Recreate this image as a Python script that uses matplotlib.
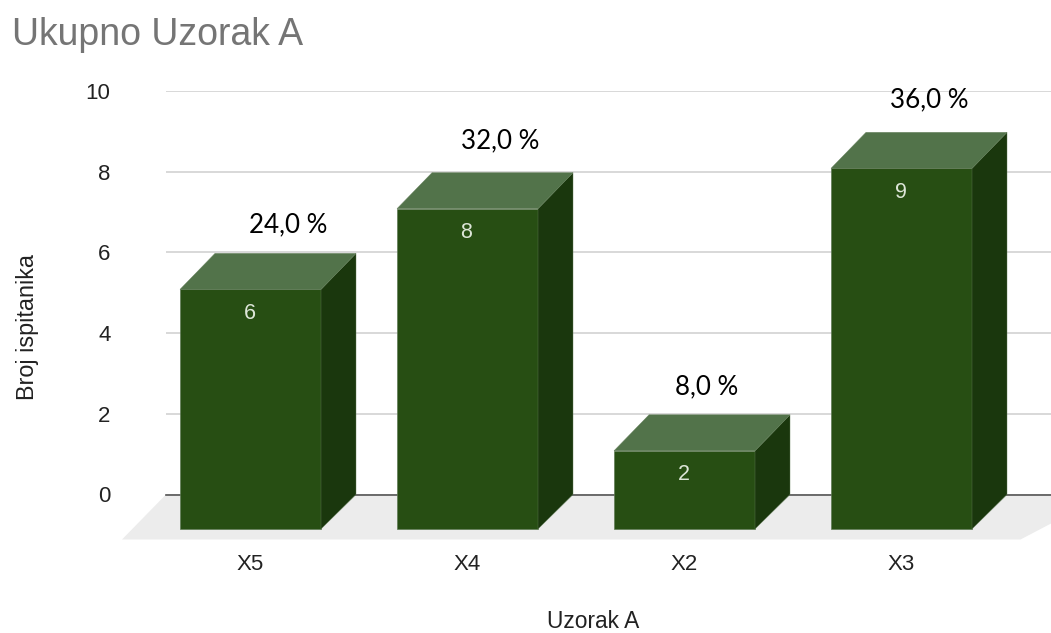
import matplotlib
matplotlib.use('Agg')
import matplotlib.pyplot as plt

categories = ['X5', 'X4', 'X2', 'X3']
counts = [6, 8, 2, 9]
percent_labels = ['24,0 %', '32,0 %', '8,0 %', '36,0 %']
y_ticks = [0, 2, 4, 6, 8, 10]

# label offsets from top of each bar, in pixels
pct_dx = [38, 33, 22, 28]
pct_dy = [28, 31, 27, 32]

FRONT = '#274e13'
SIDE = '#1a370d'
TOP = '#52734a'
EDGE = '#5f7a55'

plt.rcParams['font.family'] = ['Liberation Sans', 'DejaVu Sans']

W, H = 1051, 633
fig = plt.figure(figsize=(W / 100, H / 100), dpi=100)
ax = fig.add_axes([166 / W, (H - 494.5) / H, 885 / W, 403.5 / H])

# one category = 217 px, one y unit = 40.35 px
px_x = 1 / 217
px_y = 10 / 403.5
ax.set_xlim(-84.5 * px_x, 800.5 * px_x)
ax.set_ylim(0, 10)

half = 70.5 * px_x
dx = 35 * px_x

for side in ax.spines.values():
    side.set_visible(False)

ax.set_axisbelow(True)
ax.grid(axis='y', color='#d2d2d2', linewidth=1.2)
ax.grid(axis='x', visible=False)
ax.axhline(0, color='#555555', linewidth=1.2, zorder=1.5, clip_on=False)

# floor
floor_x = [-84.5 * px_x, 856 * px_x, 770 * px_x, -128.5 * px_x]
floor_y = [0, 0, -45 * px_y, -45 * px_y]
ax.fill(floor_x, floor_y, color='#ececec', lw=0, zorder=1, clip_on=False)

for i, v in enumerate(counts):
    l, r = i - half, i + half
    # back top sits a pixel under the gridline, front face is shifted down from the back
    bt = v - 1 * px_y
    ft, fb = bt - 36 * px_y, -34.5 * px_y
    ax.fill([l, r, r, l], [fb, fb, ft, ft], facecolor=FRONT, edgecolor=EDGE, lw=0.5,
            zorder=3, clip_on=False)
    ax.fill([r, r + dx, r + dx, r], [fb, 0, bt, ft], facecolor=SIDE, edgecolor=EDGE, lw=0.3,
            zorder=3, clip_on=False)
    ax.fill([l, r, r + dx, l + dx], [ft, ft, bt, bt], facecolor=TOP, edgecolor=EDGE, lw=0.3,
            zorder=3, clip_on=False)
    ax.annotate(str(v), xy=(i, v), xytext=(-1, -61), textcoords='offset pixels',
                ha='center', va='center', fontsize=15.5, color='#dde6d8', zorder=4,
                annotation_clip=False)
    ax.annotate(percent_labels[i], xy=(i, v), xytext=(pct_dx[i], pct_dy[i]),
                textcoords='offset pixels', ha='center', va='center', fontsize=18.7,
                color='black', family=['Lato', 'DejaVu Sans'], zorder=4,
                annotation_clip=False)

ax.set_xticks(range(len(categories)))
ax.set_xticklabels(categories)
ax.set_yticks(y_ticks)
ax.tick_params(axis='both', length=0, labelsize=16, labelcolor='#222222')
ax.tick_params(axis='y', pad=40)
ax.tick_params(axis='x', pad=42.5)

ax.set_xlabel('Uzorak A', fontsize=16.4, color='#222222', va='center')
ax.xaxis.set_label_coords(427 / 885, -127.5 / 403.5)
ax.set_ylabel('Broj ispitanika', fontsize=16.8, color='#222222', va='center')
ax.yaxis.set_label_coords(-138 / 885, (494.5 - 327) / 403.5)

fig.text(12 / W, 1 - 45 / H, 'Ukupno Uzorak A', fontsize=27, color='#757575', ha='left', va='baseline')

fig.savefig('out.png', dpi=100)
